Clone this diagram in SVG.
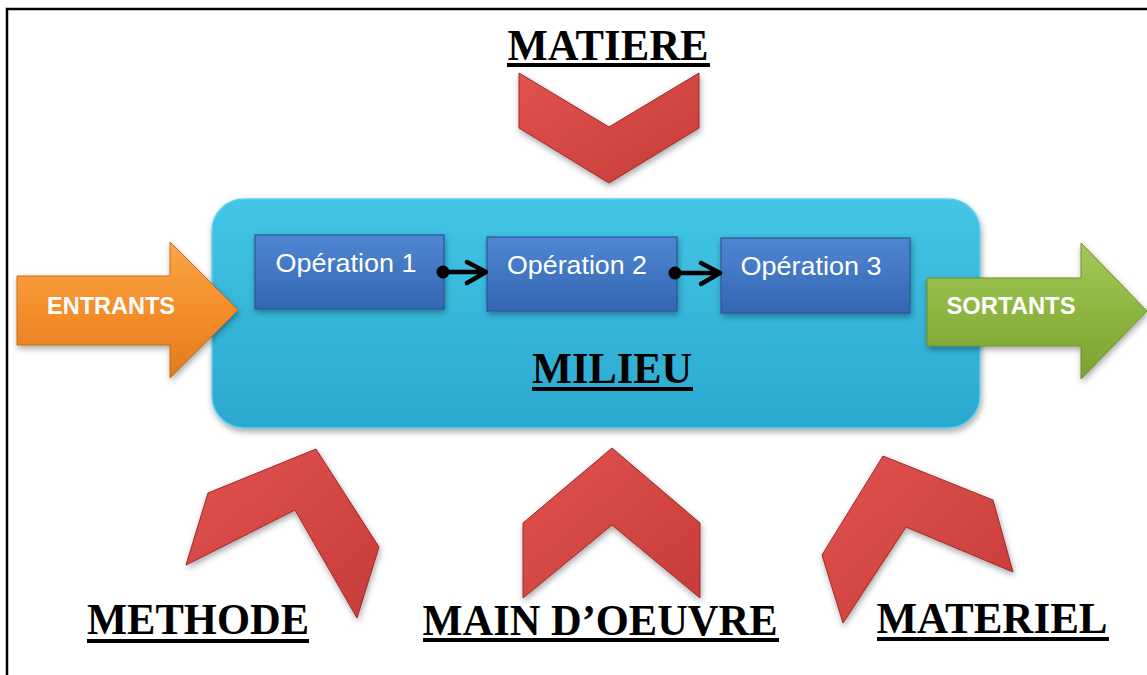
<svg xmlns="http://www.w3.org/2000/svg" width="1147" height="675" viewBox="0 0 1147 675">
<style>
.lbl{font-family:"Liberation Serif","Times New Roman",serif;font-weight:bold;font-size:45px;fill:#000;text-anchor:middle}
.ul{fill:#000}
.arrowtxt{font-family:"Liberation Sans",Arial,sans-serif;font-weight:bold;font-size:24px;fill:#fff;text-anchor:middle}
.optxt{font-family:"Liberation Sans",Arial,sans-serif;font-size:26px;fill:#fff;text-anchor:middle}
.chev{fill:url(#gRed);stroke:#9e2a28;stroke-width:1;filter:url(#sh)}
.op{fill:url(#gBlue);stroke:#2b5797;stroke-width:1.2;filter:url(#sh)}
.conn{stroke:#000;stroke-width:4.5;fill:none;stroke-linecap:round;stroke-linejoin:round}
</style>
<defs>
<filter id="sh" x="-20%" y="-20%" width="140%" height="150%">
<feDropShadow dx="1" dy="3" stdDeviation="3" flood-color="#000" flood-opacity="0.35"/>
</filter>
<linearGradient id="gRed" x1="0" y1="0" x2="1" y2="1">
<stop offset="0" stop-color="#e2524e"/>
<stop offset="1" stop-color="#c63c39"/>
</linearGradient>
<linearGradient id="gBlue" x1="0" y1="0" x2="0" y2="1">
<stop offset="0" stop-color="#4f86d2"/>
<stop offset="1" stop-color="#3466b2"/>
</linearGradient>
<linearGradient id="gCyan" x1="0" y1="0" x2="0" y2="1">
<stop offset="0" stop-color="#42c6e6"/>
<stop offset="1" stop-color="#2ba8d0"/>
</linearGradient>
<linearGradient id="gOrange" x1="0" y1="0" x2="0" y2="1">
<stop offset="0" stop-color="#f9a54a"/>
<stop offset="0.5" stop-color="#f58e2a"/>
<stop offset="1" stop-color="#e07b1e"/>
</linearGradient>
<linearGradient id="gGreen" x1="0" y1="0" x2="0" y2="1">
<stop offset="0" stop-color="#a5c95a"/>
<stop offset="0.5" stop-color="#8db640"/>
<stop offset="1" stop-color="#7ba332"/>
</linearGradient>
</defs>

<path d="M7,680 V9 H1150" fill="none" stroke="#000" stroke-width="2.5"/>

<g id="milieu">
<rect x="212" y="199" width="768" height="229" rx="32" ry="32" fill="url(#gCyan)" stroke="#5fd0ec" stroke-width="1.5" filter="url(#sh)"/>
<text class="lbl" x="612" y="383" textLength="160" lengthAdjust="spacingAndGlyphs">MILIEU</text>
<rect class="ul" x="532" y="387" width="161" height="4"/>
</g>

<g id="op1">
<rect class="op" x="255" y="235" width="189" height="74"/>
<text class="optxt" x="346" y="272" textLength="141" lengthAdjust="spacingAndGlyphs">Opération 1</text>
</g>
<g id="op2">
<rect class="op" x="487" y="237" width="190" height="74"/>
<text class="optxt" x="577" y="274" textLength="140" lengthAdjust="spacingAndGlyphs">Opération 2</text>
</g>
<g id="op3">
<rect class="op" x="721" y="238" width="189" height="75"/>
<text class="optxt" x="811" y="275" textLength="141" lengthAdjust="spacingAndGlyphs">Opération 3</text>
</g>

<g id="connectors">
<circle cx="443" cy="272" r="6.5" fill="#000"/>
<path class="conn" d="M443,272 H485 M467,262 L486,272 L467,283"/>
<circle cx="675" cy="273" r="6.5" fill="#000"/>
<path class="conn" d="M675,273 H719 M701,263 L720,273 L701,284"/>
</g>

<g id="entrants">
<path d="M17,276 H170 V242 L238,310 L170,378 V345 H17 Z" fill="url(#gOrange)" stroke="#c86e18" stroke-width="1" filter="url(#sh)"/>
<text class="arrowtxt" x="111" y="314" textLength="128" lengthAdjust="spacingAndGlyphs">ENTRANTS</text>
</g>

<g id="sortants">
<path d="M927,278 H1081 V243 L1147,311 L1081,379 V346 H927 Z" fill="url(#gGreen)" stroke="#6b9028" stroke-width="1" filter="url(#sh)"/>
<text class="arrowtxt" x="1011" y="314" textLength="129" lengthAdjust="spacingAndGlyphs">SORTANTS</text>
</g>

<g id="matiere">
<text class="lbl" x="608" y="60" textLength="201" lengthAdjust="spacingAndGlyphs">MATIERE</text>
<rect class="ul" x="507" y="63" width="203" height="4"/>
<polygon class="chev" points="519,73 609,127 699,73 699,128 609,183 519,128"/>
</g>

<g id="methode">
<polygon class="chev" points="208,493 316,449 379,547 357,618 295,510 186,565"/>
<text class="lbl" x="198" y="634" textLength="222" lengthAdjust="spacingAndGlyphs">METHODE</text>
<rect class="ul" x="87" y="639" width="222" height="4"/>
</g>

<g id="main-oeuvre">
<polygon class="chev" points="612,448 700,523 700,598 612,525 523,598 523,523"/>
<text class="lbl" x="600" y="635" textLength="355" lengthAdjust="spacingAndGlyphs">MAIN D’OEUVRE</text>
<rect class="ul" x="423" y="638" width="356" height="4"/>
</g>

<g id="materiel">
<polygon class="chev" points="883,456 993,500 1013,572 906,527 843,623 822,555"/>
<text class="lbl" x="992" y="633" textLength="231" lengthAdjust="spacingAndGlyphs">MATERIEL</text>
<rect class="ul" x="877" y="637" width="232" height="4"/>
</g>
</svg>
